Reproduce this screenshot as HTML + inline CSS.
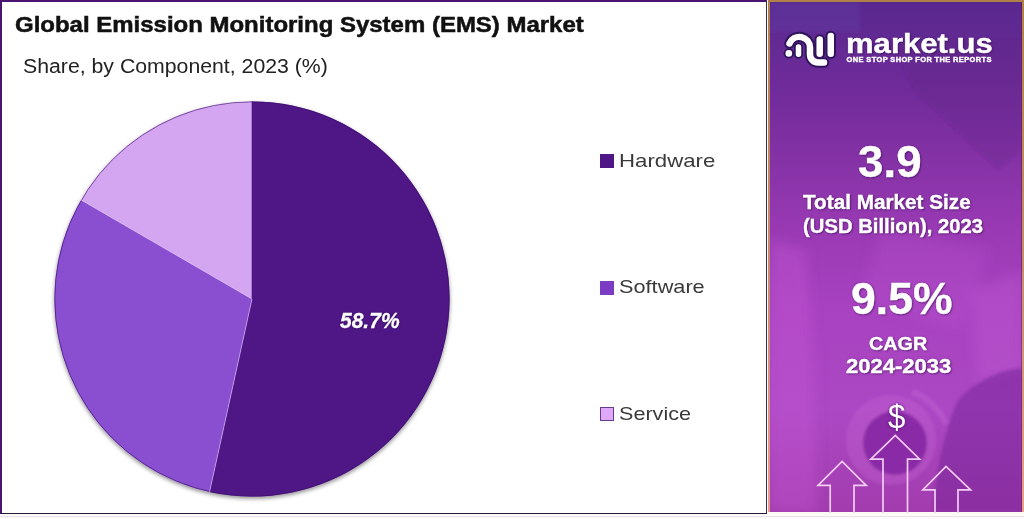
<!DOCTYPE html>
<html>
<head>
<meta charset="utf-8">
<style>
*{margin:0;padding:0;box-sizing:border-box;}
html,body{width:1024px;height:519px;overflow:hidden;background:#fdfbf6;}
body{position:relative;font-family:"Liberation Sans",sans-serif;}
.t{position:absolute;white-space:nowrap;line-height:normal;transform-origin:0 0;}
#left{position:absolute;left:0;top:0;width:767px;height:514px;background:#fff;border-left:2px solid #4a1570;border-top:2px solid #4a1570;border-right:1.5px solid #3b2a4a;border-bottom:1.2px solid #2a1a35;}
#foot{position:absolute;left:0;top:516px;width:1024px;height:1px;background:#eadff0;}
#right{position:absolute;left:768px;top:0;width:256px;height:512px;background:linear-gradient(180deg,#b08048 0%,#c89070 60%,#e8a088 100%);}
#rbg{position:absolute;left:2px;top:2px;width:252px;height:510px;overflow:hidden;box-shadow:inset -1px 0 0 rgba(100,30,70,.55);
 background:linear-gradient(180deg,#58288e 0%,#742c9c 20%,#9a3ab4 45%,#a842c0 60%,#ac48c4 80%,#a23cae 100%);}
.leg{font-size:19px;color:#3a3a3a;}
.sq{position:absolute;width:14px;height:14px;}
.wt{color:#fff;font-weight:bold;-webkit-text-stroke:0.4px #fff;text-shadow:0 0 2px rgba(50,0,80,.55),1px 1px 2px rgba(40,0,60,.5);}
</style>
</head>
<body>
<div id="left"></div><div id="foot"></div>
<div class="t" style="left:15px;top:12.6px;font-size:21.5px;font-weight:bold;color:#111;-webkit-text-stroke:0.5px #111;transform:scaleX(1.115)">Global Emission Monitoring System (EMS) Market</div>
<div class="t" style="left:23px;top:55.1px;font-size:19.5px;color:#222;transform:scaleX(1.09)">Share, by Component, 2023 (%)</div>

<svg style="position:absolute;left:0;top:0" width="767" height="514" viewBox="0 0 767 514">
  <defs><filter id="psh" x="-10%" y="-10%" width="120%" height="120%"><feGaussianBlur in="SourceAlpha" stdDeviation="2"/><feOffset dx="0" dy="1.5"/><feComponentTransfer><feFuncA type="linear" slope="0.45"/></feComponentTransfer><feMerge><feMergeNode/><feMergeNode in="SourceGraphic"/></feMerge></filter></defs>
  <g filter="url(#psh)">
  <path d="M252.0 299 L252.00 101.40 A197.6 197.6 0 1 1 209.57 491.99 Z" fill="#4f1786"/>
  <path d="M252.0 299 L209.57 491.99 A197.6 197.6 0 0 1 81.05 199.90 Z" fill="#8a4fd0"/>
  <path d="M252.0 299 L81.05 199.90 A197.6 197.6 0 0 1 252.00 101.40 Z" fill="#d4a5f0"/>
  </g>
  <circle cx="252.0" cy="299" r="197.2" fill="none" stroke="#3a0e68" stroke-width="1" opacity="0.6"/>
  <path d="M252.0 299 L209.57 491.99 M252.0 299 L81.05 199.90" stroke="#e4c8ff" stroke-width="1" opacity="0.6"/>
  <path d="M252.0 299 L252.00 101.40" stroke="#4010a0" stroke-width="1" opacity="0.6"/>
</svg>
<div class="t" style="left:340px;top:307.6px;font-size:22px;font-weight:bold;font-style:italic;color:#fff;-webkit-text-stroke:0.3px #fff;text-shadow:0 0 2px rgba(20,0,40,.7);transform:scaleX(0.955)">58.7%</div>

<div class="sq" style="left:600px;top:154px;background:#4f1786"></div>
<div class="t leg" style="left:618.8px;top:150.3px;transform:scaleX(1.169)">Hardware</div>
<div class="sq" style="left:600px;top:281px;background:#7a3cc0"></div>
<div class="t leg" style="left:619px;top:276.2px;transform:scaleX(1.143)">Software</div>
<div class="sq" style="left:600px;top:407px;background:#e0a8f8;border:1.5px solid #6a3a8a"></div>
<div class="t leg" style="left:619px;top:403.2px;transform:scaleX(1.137)">Service</div>

<div id="right"><div id="rbg"></div></div>
<svg style="position:absolute;left:0;top:0" width="1024" height="519" viewBox="0 0 1024 519">
  <defs>
    <radialGradient id="glow1" cx="0.5" cy="0.5" r="0.5">
      <stop offset="0" stop-color="#d070e0" stop-opacity="0.55"/>
      <stop offset="1" stop-color="#d070e0" stop-opacity="0"/>
    </radialGradient>
    <radialGradient id="dark1" cx="0.5" cy="0.5" r="0.5">
      <stop offset="0" stop-color="#5a1878" stop-opacity="0.5"/>
      <stop offset="1" stop-color="#5a1878" stop-opacity="0"/>
    </radialGradient>
    <filter id="bl6" x="-50%" y="-50%" width="200%" height="200%"><feGaussianBlur stdDeviation="6"/></filter><filter id="bl2" x="-50%" y="-50%" width="200%" height="200%"><feGaussianBlur stdDeviation="1.5"/></filter>
    <clipPath id="rclip"><rect x="770" y="2" width="252" height="510"/></clipPath>
  </defs>
  <g clip-path="url(#rclip)">
    <g filter="url(#bl6)">
      <path d="M770 240 L806 250 Q818 380 816 512 L770 512 Z" fill="#c85ad6" opacity="0.35"/>
      <path d="M770 60 L960 200 L1022 150 L1022 20 L880 20 Z" fill="#5a1e88" opacity="0.0"/>
      
      <path d="M880 230 L990 250 L960 330 L860 300 Z" fill="#c058d4" opacity="0.25"/>
      <path d="M970 290 L1022 272 L1022 368 L978 384 Z" fill="#c860d8" opacity="0.3"/>
    </g>
    <g filter="url(#bl2)">
      <path d="M890 40 L915 92 L998 170 L1022 150 L1022 40 Z" fill="#5a1a80" opacity="0.22"/>
      <rect x="770" y="2" width="90" height="30" fill="#6a4ab8" opacity="0.22"/>
      <path d="M933 512 Q938 445 958 400 Q985 372 1022 368 L1022 512 Z" fill="#742096" opacity="0.5"/>
      <path d="M912 392 Q935 400 946 424" fill="none" stroke="#c870d8" stroke-width="6" opacity="0.35"/>
      <circle cx="891" cy="440" r="45" fill="#c96ad8" opacity="0.3"/>
      <circle cx="895" cy="443" r="32" fill="#8a2ca6"/>
    </g>
  </g>
  <!-- logo -->
  <g fill="none" stroke-linecap="round" stroke="#24104e" stroke-width="10.5" opacity="0.8">
    <path d="M789.5 43.5 A10.65 10.65 0 0 1 810 47.5 V54.5 A8 8 0 0 0 818 62.5 H824"/>
    <path d="M830.75 36 V53.8 M819.7 39.5 V53.8"/>
  </g>
  <circle cx="788.8" cy="53.4" r="5.2" fill="#24104e" opacity="0.8"/>
  <path d="M798.5 47 V54.3" stroke="#24104e" stroke-width="9" stroke-linecap="round" opacity="0.8"/>
  <g fill="none" stroke-linecap="round" stroke="#fff" stroke-width="6.5">
    <path d="M789.5 43.5 A10.65 10.65 0 0 1 810 47.5 V54.5 A8 8 0 0 0 818 62.5 H824"/>
    <path d="M830.75 36 V53.8 M819.7 39.5 V53.8"/>
  </g>
  <path d="M798.5 47 V54.3" stroke="#fff" stroke-width="5.5" stroke-linecap="round"/>
  <circle cx="788.8" cy="53.4" r="3.3" fill="#fff"/>
  <!-- arrows -->
  <g fill="none" stroke="#f4cdf4" stroke-width="1.7" stroke-linejoin="miter">
    <path d="M883 513 V459.2 H870.8 L895.3 435.5 L919.6 459.2 H907.5 V513"/>
    <path d="M830.2 513 V485.3 H818 L842.1 461.5 L866.2 485.3 H854 V513"/>
    <path d="M935 513 V489.9 H922.8 L946 466.5 L970.6 489.9 H958 V513"/>
  </g>
</svg>

<div class="t wt" style="left:845.7px;top:28.5px;font-size:27px;transform:scaleX(1.15)">market.us</div>
<div class="t wt" style="left:846.6px;top:55.3px;font-size:7.5px;letter-spacing:0.35px;text-shadow:none">ONE STOP SHOP FOR THE REPORTS</div>

<div class="t wt" style="left:858px;top:135.8px;font-size:45px;transform:scaleX(1.016)">3.9</div>
<div class="t wt" style="left:802.7px;top:191.3px;font-size:20px;transform:scaleX(1.036)">Total Market Size</div>
<div class="t wt" style="left:802.7px;top:214.5px;font-size:20px;transform:scaleX(1.013)">(USD Billion), 2023</div>
<div class="t wt" style="left:851px;top:272.8px;font-size:45px;transform:scaleX(0.99)">9.5%</div>
<div class="t wt" style="left:869px;top:334px;font-size:18px;transform:scaleX(1.10)">CAGR</div>
<div class="t wt" style="left:845.8px;top:355.2px;font-size:19.5px;transform:scaleX(1.13)">2024-2033</div>
<div class="t" style="left:888px;top:397px;font-size:34px;transform:scaleX(0.92);color:#fff;text-shadow:0 0 3px rgba(60,0,90,.8)">$</div>
</body>
</html>
